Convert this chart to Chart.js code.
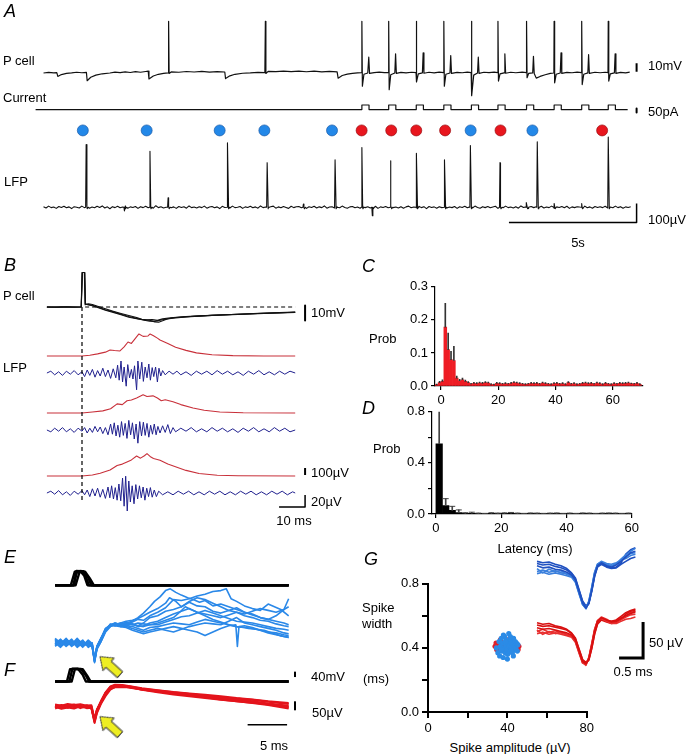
<!DOCTYPE html>
<html><head><meta charset="utf-8">
<script src="https://cdn.jsdelivr.net/npm/chart.js@4.4.0/dist/chart.umd.min.js"></script>
<style>
html,body{margin:0;padding:0;background:#fff;}
#fig{position:relative;width:687px;height:754px;overflow:hidden;background:#fff;font-family:'Liberation Sans',Arial,sans-serif;color:#000;}
#fig canvas{position:absolute;}
.t{position:absolute;font-size:13px;line-height:1;white-space:nowrap;transform:translateY(-50%);}
.c{transform:translate(-50%,-50%);}
.p{font-style:italic;font-size:18px;}
</style></head><body><div id="fig"></div>
<script>
// ---------------- DATA ----------------
// Panel A (time in s)
const pcellTrace = [[0,-60.5],[0.2,-59.8],[0.4,-60.3],[0.52,-60],[0.56,-64.5],[0.7,-62.3],[0.9,-61],[1.1,-60.4],[1.3,-59.6],[1.5,-60.2],[1.68,-59.8],[1.71,-69.5],[1.85,-65.5],[2.05,-63],[2.3,-61.4],[2.6,-60.5],[2.8,-59.4],[3.0,-60.1],[3.2,-59.2],[3.4,-59.9],[3.6,-58.9],[3.8,-59.6],[4.0,-58.7],[4.1,-58.2],[4.13,-67.5],[4.3,-64],[4.5,-62],[4.7,-61],[4.88,-60.4],[4.9,0],[4.92,-61],[5.0,-59.2],[5.3,-59.6],[5.6,-58.7],[5.9,-59.3],[6.2,-58.6],[6.5,-59.4],[6.8,-58.9],[7.1,-59.3],[7.13,-67],[7.3,-63.8],[7.5,-62],[7.8,-60.8],[8.1,-60.4],[8.4,-59.8],[8.67,-60.1],[8.69,0],[8.71,-61],[8.8,-58.6],[9.1,-58.9],[9.4,-58.3],[9.7,-58.9],[10.0,-58.3],[10.3,-59],[10.6,-58.4],[10.9,-59.1],[11.2,-58.6],[11.5,-59.2],[11.54,-66.5],[11.7,-63.4],[11.9,-61.8],[12.1,-60.9],[12.3,-60.4],
[12.46,-60.2],[12.47,0],[12.49,-76],[12.55,-62],[12.7,-60.5],[12.74,-42],[12.77,-61],[12.95,-60],[13.15,-59.4],[13.35,-60.1],
[13.51,-59.8],[13.52,0],[13.54,-80],[13.6,-62.5],[13.76,-60.5],[13.79,-38],[13.82,-61],[14.0,-59.8],[14.2,-60.4],[14.42,-59.6],
[14.59,-60],[14.6,0],[14.62,-71],[14.68,-61.5],[14.84,-60.4],[14.87,-37],[14.9,-60.8],[15.1,-59.6],[15.3,-60.3],[15.5,-59.4],
[15.67,-60],[15.68,0],[15.7,-76],[15.76,-62],[15.92,-60.5],[15.95,-40],[15.98,-61],[16.2,-59.7],[16.4,-60.2],[16.6,-59.5],
[16.75,-60],[16.76,0],[16.78,-87],[16.85,-63],[17.0,-60.6],[17.03,-42],[17.06,-61],[17.25,-59.6],[17.45,-60.1],[17.65,-59.4],
[17.79,-60],[17.8,0],[17.82,-70],[17.88,-61.5],[18.04,-60.3],[18.07,-38],[18.1,-60.8],[18.3,-59.6],[18.5,-60.2],[18.75,-59.5],
[18.91,-60],[18.92,0],[18.94,-66],[19.0,-61],[19.16,-60.4],[19.19,-41],[19.22,-61],[19.3,-66.5],[19.45,-64.5],[19.65,-62.5],[19.85,-61],
[19.99,-60.5],[20.0,0],[20.02,-72],[20.08,-62],[20.24,-60.5],[20.27,-37],[20.3,-61],[20.5,-59.7],[20.7,-60.2],[20.9,-59.5],
[21.07,-60],[21.08,0],[21.1,-74],[21.16,-62],[21.32,-60.4],[21.35,-39],[21.38,-61],[21.6,-59.6],[21.8,-60.2],[22.0,-59.6],
[22.11,-60],[22.12,0],[22.14,-70],[22.2,-61.5],[22.36,-60.4],[22.39,-38],[22.42,-61],[22.6,-59.8],[22.8,-60.3],[22.96,-59.5]];
const stimOnsets = [12.47,13.52,14.60,15.68,16.76,17.80,18.92,20.00,21.08,22.12];
const stimAmp = 60, stimWidth = 0.28, currentSpan = [-0.31, 22.88];
const lfpStep = 0.1;
const lfpNoise = [3,-4,6,-2,1,-6,4,-1,5,-3,2,-7,3,0,-4,6,-2,4,-5,1,
 -3,5,-1,7,-4,2,-8,3,-2,5,-3,1,6,-5,2,-1,4,-6,3,-2,
 5,-3,1,-5,8,-2,3,-4,0,6,-3,2,-6,4,-1,3,-5,7,-2,1,
 -4,3,-2,6,-5,1,4,-3,2,-7,5,-1,3,-4,6,-2,0,4,-6,2,
 -1,5,-3,2,-5,7,-2,1,-4,3,6,-5,2,-3,4,-1,-6,5,-2,3,
 4,-3,1,-6,3,-1,5,-4,2,-2,7,-5,1,3,-4,2,-3,6,-1,-5,
 2,4,-3,1,-5,6,-2,3,-4,0,5,-6,2,-1,4,-3,6,-2,1,-4,
 3,-5,2,6,-3,1,-4,5,-2,3,-7,4,-1,2,-5,3,-2,6,-4,1,
 -2,4,-6,3,-1,5,-3,2,-4,6,-1,-5,3,-2,4,-3,1,5,-6,2,
 -3,6,-2,1,-4,3,-5,7,-1,2,-6,4,-2,3,-3,5,-4,1,-2,6,
 -5,2,-1,4,-3,5,-6,2,-2,3,1,-4,6,-3,2,-5,4,-1,3,-2,
 5,-4,1,-3,6,-2,3,-5,2,-1,3];
const lfpEventT   = [1.67,3.17,4.17,4.88,7.21,8.76,10.18,11.42,12.47,12.88,13.60,14.61,15.71,16.72,17.88,18.92,19.34,20.0,21.08,22.12];
const lfpEventAmp = [330,-20,295,50,340,235,17,250,315,-45,245,285,250,325,235,25,345,20,20,370];
const dotBlueT = [1.54,4.04,6.9,8.65,11.3,16.73,19.15];
const dotRedT  = [12.46,13.62,14.6,15.73,17.9,21.88];

// Panel B (time in ms)
const bPcell1 = [[-13.5,-60],[-10,-60.2],[-6,-59.8],[-3,-60.1],[-0.3,-60],[0,-37],[1.1,-37],[1.3,-58],[2.5,-58.3],[4,-58.8],[6,-60],[9,-61.8],[12,-63.2],[15,-64.8],[18,-66.3],[21,-67.6],[24,-68.8],[26,-69.5],[28,-69.6],[30,-68.8],[32,-68.2],[35,-67.4],[40,-66.6],[45,-66.1],[50,-65.6],[60,-64.9],[70,-64.3],[82,-63.6]];
const bPcell2 = [[-13.5,-60.2],[-8,-59.9],[-4,-60.2],[-0.3,-60],[0.1,-37],[0.9,-37],[1.2,-58.5],[2.5,-57.8],[4,-58.3],[6,-59.5],[9,-61.2],[12,-62.8],[15,-64.3],[18,-65.7],[21,-67],[23,-68.2],[25,-68.6],[27,-68.4],[29,-68.9],[31,-67.9],[34,-67.2],[40,-66.4],[45,-65.9],[50,-65.5],[60,-64.8],[70,-64.2],[82,-63.5]];
const bPcell3 = [[-13.5,-59.9],[-9,-60.1],[-5,-59.8],[-0.3,-60],[0.2,-37],[1.0,-37],[1.3,-58],[2.5,-58.6],[4,-59.2],[6,-60.4],[9,-62.2],[12,-63.6],[15,-65.2],[18,-66.8],[21,-67.8],[24,-68.6],[26,-68.8],[28,-70],[29.5,-70.1],[31,-69.2],[33,-67.8],[36,-67],[40,-66.5],[50,-65.6],[60,-64.8],[70,-64.1],[82,-63.4]];
const bRed1 = [[-13.5,0],[0,0],[3,10],[6,30],[9,55],[10.8,86],[12.5,78],[14.6,72],[16.2,130],[17.7,200],[19,180],[20.3,240],[21.9,315],[23.5,280],[25.4,286],[26.2,315],[27.5,290],[29,255],[30,229],[33,180],[36,125],[40,80],[44,45],[50,18],[58,5],[70,0],[82,0]];
const bRed2 = [[-13.5,0],[0,0],[4,15],[8,30],[11,60],[13.5,130],[15.5,120],[17.3,175],[19,185],[21,215],[23.5,260],[25,235],[27.3,245],[29,215],[30.5,175],[32,190],[35,160],[38,120],[42.7,72],[47,40],[53,14],[62,4],[82,0]];
const bRed3 = [[-13.5,0],[0,0],[4,15],[7,40],[10.8,86],[13.5,150],[15.5,170],[17.3,200],[19,230],[21,285],[22.5,255],[24,290],[25,320],[26.5,270],[27.5,250],[30,225],[33,170],[36.5,125],[40,80],[45,35],[52,10],[60,3],[82,0]];
const bBlue1 = [[-13.5,0],[-12,3],[-10.5,-3],[-9,2],[-7.5,-4],[-6,3],[-4.5,-2],[-3,4],[-1.5,-3],[0,2],[1,-6],[2,5],[3,-4],[4,6],[5,-7],[6,4],[7,-5],[8,8],[9,-6],[10,5],[11,-9],[12,7],[13,-8],[13.7,13],[14.3,-12],[15,20],[15.6,-15],[16.2,10],[17,-22],[17.6,14],[18.3,-8],[19,6],[19.6,-10],[20.2,12],[21,-28],[21.5,20],[22.2,-10],[23,18],[23.6,-14],[24.3,10],[25,-8],[25.7,15],[26.3,-12],[27,9],[27.6,-6],[28.3,10],[29,-15],[29.6,8],[30.3,-5],[31,4],[32,-3],[33.5,3],[35,-2],[36.5,3],[38,-3],[40,2],[42,-4],[44,3],[46,-2],[48,3],[50,-3],[52,4],[54,-2],[56,3],[58,-3],[60,2],[62,-4],[64,3],[66,-2],[68,4],[70,-3],[72,2],[74,-3],[76,3],[78,-2],[80,3],[82,0]];
const bBlue2 = [[-13.5,0],[-12,-3],[-10.5,3],[-9,-2],[-7.5,4],[-6,-3],[-4.5,2],[-3,-4],[-1.5,3],[0,-2],[1,4],[2,-5],[3,3],[4,-4],[5,6],[6,-3],[7,5],[8,-6],[9,4],[10,-8],[11,10],[11.7,-7],[12.4,12],[13.1,-10],[13.8,8],[14.5,-12],[15.2,14],[15.9,-9],[16.6,11],[17.3,-14],[18,16],[18.7,-8],[19.4,12],[20.1,-15],[20.8,10],[21.5,-22],[22.2,14],[22.9,-10],[23.6,13],[24.3,-9],[25,11],[25.7,-12],[26.4,8],[27.1,-7],[27.8,10],[28.5,-8],[29.2,6],[30,-5],[31,7],[32,-4],[33,9],[34,-6],[35,4],[36,-3],[38,3],[40,-2],[42,4],[44,-3],[46,2],[48,-3],[50,4],[52,-2],[54,3],[56,-3],[58,2],[60,-4],[62,3],[64,-2],[66,4],[68,-3],[70,2],[72,-3],[74,4],[76,-2],[78,3],[80,-3],[82,0]];
const bBlue3 = [[-13.5,0],[-12,3],[-10.5,-2],[-9,4],[-7.5,-3],[-6,2],[-4.5,-4],[-3,3],[-1.5,-2],[0,4],[1,-3],[2,5],[3,-6],[4,7],[5,-5],[6,8],[7,-7],[8,6],[9,-9],[10,10],[10.7,-8],[11.4,12],[12.1,-10],[12.8,9],[13.5,-12],[14.2,15],[14.9,-13],[15.6,25],[16.2,-22],[16.8,28],[17.4,-30],[18,20],[18.6,-15],[19.3,12],[20,-18],[20.7,14],[21.4,-10],[22.1,12],[22.8,-8],[23.5,10],[24.2,-12],[24.9,8],[25.6,-6],[26.3,9],[27,-7],[27.8,5],[28.6,-6],[29.5,3],[31,-3],[33,2],[35,-3],[37,3],[39,-2],[41,3],[43,-3],[45,2],[47,-3],[49,3],[51,-2],[53,3],[55,-3],[57,2],[59,-3],[61,3],[63,-2],[65,3],[67,-3],[69,2],[71,-3],[73,3],[75,-2],[77,3],[79,-3],[81,2],[82,0]];

// Panel C
const cLatency = [-1.5,-0.5,0.5,1.5,2.5,3.5,4.5,5.5,6.5,7.5,8.5,9.5,10.5,11.5,12.5,13.5,14.5,15.5,16.5,17.5,18.5,19.5,20.5,21.5,22.5,23.5,24.5,25.5,26.5,27.5,28.5,29.5,30.5,31.5,32.5,33.5,34.5,35.5,36.5,37.5,38.5,39.5,40.5,41.5,42.5,43.5,44.5,45.5,46.5,47.5,48.5,49.5,50.5,51.5,52.5,53.5,54.5,55.5,56.5,57.5,58.5,59.5,60.5,61.5,62.5,63.5,64.5,65.5,66.5,67.5,68.5,69.5];
const cProb = [0.004,0.010,0.014,0.178,0.110,0.080,0.077,0.024,0.016,0.019,
 0.014,0.010,0.006,0.008,0.007,0.009,0.008,0.010,0.009,0.005,
 0.004,0.008,0.007,0.006,0.007,0.006,0.008,0.010,0.009,0.007,
 0.006,0.005,0.006,0.008,0.007,0.008,0.006,0.009,0.007,0.006,
 0.005,0.007,0.008,0.006,0.007,0.005,0.010,0.006,0.007,0.005,
 0.006,0.008,0.009,0.007,0.008,0.006,0.009,0.007,0.005,0.008,
 0.006,0.005,0.007,0.006,0.008,0.007,0.008,0.009,0.007,0.006,
 0.008,0.005];
const cErr = [0.002,0.004,0.005,0.072,0.050,0.025,0.043,0.006,0.004,0.005,
 0.004,0.003,0.002,0.003,0.003,0.003,0.003,0.003,0.003,0.002,
 0.002,0.003,0.003,0.002,0.003,0.002,0.003,0.003,0.003,0.003,
 0.002,0.002,0.002,0.003,0.003,0.003,0.002,0.003,0.003,0.002,
 0.002,0.003,0.003,0.002,0.003,0.002,0.003,0.002,0.003,0.002,
 0.002,0.003,0.003,0.003,0.003,0.002,0.003,0.003,0.002,0.003,
 0.002,0.002,0.003,0.002,0.003,0.003,0.003,0.003,0.002,0.002,
 0.003,0.002];
const cXTicks = [0,20,40,60];
const cYTicks = [0,0.1,0.2,0.3];

// Panel D
const dLatency = [1,3,5,7,9,11,13,15,17,19,21,23,25,27,29,31,33,35,37,39,41,43,45,47,49,51,53,55,57,59];
const dProb = [0.55,0.065,0.028,0.012,0.004,0.006,0.003,0.002,0.005,0.003,0.004,0.006,0.003,0.002,0.004,0.003,0.002,0.003,0.004,0.002,0.003,0.002,0.004,0.003,0.002,0.003,0.004,0.003,0.002,0.003];
const dErr = [0.27,0.055,0.032,0.02,0.006,0.008,0.004,0.003,0.005,0.004,0.005,0.006,0.004,0.003,0.004,0.004,0.003,0.004,0.004,0.003,0.004,0.003,0.004,0.004,0.003,0.004,0.004,0.004,0.003,0.004];
const dXTicks = [0,20,40,60];
const dYTicks = [0,0.2,0.4,0.6,0.8];
const dYLabels = [0,0.4,0.8];

// Panel E / F (time in ms)
const eBlack = [
 [[0,0],[2.0,0],[2.5,100],[3.3,105],[3.9,60],[4.3,0],[29.6,0]],
 [[0,0],[2.3,0],[2.8,102],[3.6,104],[4.2,55],[4.6,0],[29.6,0]],
 [[0,0],[2.6,0],[3.1,98],[3.8,100],[4.4,50],[4.9,0],[29.6,0]],
 [[0,0],[2.4,0],[2.7,106],[3.2,104],[3.7,70],[4.1,0],[29.6,0]]];
const eBlue = [
 [[0,10],[0.7,-15],[1.4,20],[2.1,-5],[2.8,15],[3.5,-10],[4.2,5],[4.7,-15],[5.0,-105],[5.3,-30],[5.8,15],[6.4,75],[7.0,95],[7.6,105],[8.3,95],[9.0,110],[9.8,120],[10.5,140],[11.2,165],[12.0,200],[12.6,230],[13.3,255],[14.0,290],[14.6,300],[15.3,280],[16.0,265],[16.8,250],[17.5,240],[18.3,225],[19.0,235],[20.0,205],[21.0,215],[22.0,200],[23.0,185],[24.0,170],[25.0,155],[26.0,140],[27.0,130],[28.0,120],[29.0,110],[29.6,100]],
 [[0,-20],[0.7,5],[1.4,-10],[2.1,15],[2.8,-15],[3.5,10],[4.2,-20],[4.7,-5],[5.0,-95],[5.3,-20],[5.8,25],[6.4,65],[7.0,100],[7.6,95],[8.3,105],[9.0,100],[9.8,115],[10.5,130],[11.2,125],[12.0,150],[13.0,170],[14.0,195],[15.0,240],[16.0,235],[17.0,245],[18.0,260],[19.0,270],[20.0,285],[21.0,290],[21.7,300],[22.3,245],[23.0,230],[24.0,205],[25.0,190],[26.0,180],[27.0,215],[27.8,200],[28.6,185],[29.6,150]],
 [[0,25],[0.7,0],[1.4,15],[2.1,-20],[2.8,5],[3.5,-25],[4.2,10],[4.7,-10],[5.0,-90],[5.3,-25],[5.8,20],[6.4,80],[7.0,90],[7.6,110],[8.3,100],[9.0,95],[9.8,105],[10.5,95],[11.2,110],[12.0,140],[13.0,150],[14.0,175],[15.0,185],[16.0,200],[17.0,225],[18.0,205],[19.0,200],[20.0,175],[21.0,165],[22.0,180],[23.0,195],[24.0,170],[25.0,160],[26.0,140],[27.0,130],[28.0,150],[29.0,185],[29.6,245]],
 [[0,-5],[0.7,20],[1.4,-15],[2.1,10],[2.8,-25],[3.5,0],[4.2,-10],[4.7,-20],[5.0,-110],[5.3,-35],[5.8,5],[6.4,60],[7.0,90],[7.6,100],[8.3,110],[9.0,100],[9.8,105],[10.5,90],[11.2,95],[12.0,110],[13.0,120],[14.0,140],[15.0,160],[16.0,175],[17.0,190],[18.0,170],[19.0,160],[20.0,150],[21.0,140],[22.0,155],[23.0,170],[24.0,150],[25.0,140],[26.0,125],[27.0,120],[28.0,105],[29.0,95],[29.6,90]],
 [[0,15],[0.7,-10],[1.4,5],[2.1,-15],[2.8,20],[3.5,-5],[4.2,-15],[4.7,0],[5.0,-100],[5.3,-25],[5.8,15],[6.4,70],[7.0,105],[7.6,95],[8.3,100],[9.0,115],[9.8,100],[10.5,110],[11.2,105],[12.0,100],[13.0,100],[14.0,115],[15.0,130],[16.0,145],[17.0,150],[18.0,165],[19.0,180],[20.0,165],[21.0,150],[22.0,135],[23.0,120],[24.0,115],[25.0,110],[26.0,100],[27.0,90],[28.0,80],[29.0,75],[29.6,70]],
 [[0,0],[0.7,-25],[1.4,10],[2.1,-10],[2.8,10],[3.5,-20],[4.2,0],[4.7,-25],[5.0,-95],[5.3,-20],[5.8,20],[6.4,75],[7.0,95],[7.6,100],[8.3,90],[9.0,95],[9.8,90],[10.5,80],[11.2,70],[12.0,85],[13.0,90],[14.0,100],[15.0,110],[16.0,105],[17.0,100],[18.0,115],[19.0,130],[20.0,120],[21.0,110],[22.0,100],[23.0,90],[24.0,85],[25.0,80],[26.0,70],[27.0,60],[28.0,55],[29.0,45],[29.6,40]],
 [[0,-15],[0.7,10],[1.4,-20],[2.1,5],[2.8,-10],[3.5,15],[4.2,-25],[4.7,-10],[5.0,-100],[5.3,-30],[5.8,10],[6.4,70],[7.0,100],[7.6,105],[8.3,95],[9.0,90],[9.8,80],[10.5,70],[11.2,60],[12.0,70],[13.0,80],[14.0,70],[15.0,60],[16.0,75],[17.0,90],[18.0,100],[19.0,110],[20.0,105],[21.0,100],[22.0,120],[23.0,140],[24.0,110],[25.0,100],[26.0,90],[27.0,80],[28.0,70],[29.0,55],[29.6,50]],
 [[0,5],[0.7,-5],[1.4,25],[2.1,-15],[2.8,0],[3.5,-15],[4.2,15],[4.7,-5],[5.0,-90],[5.3,-20],[5.8,25],[6.4,80],[7.0,100],[7.6,110],[8.3,100],[9.0,110],[9.8,100],[10.5,95],[11.2,90],[12.0,100],[13.0,110],[14.0,125],[15.0,140],[15.8,170],[16.5,200],[17.2,185],[18.0,170],[19.0,150],[20.0,130],[21.0,115],[22.0,100],[23.0,90],[24.0,85],[24.5,80],[25.5,75],[26.5,70],[27.5,55],[28.5,40],[29.6,30]],
 [[0,-10],[0.7,15],[1.4,-5],[2.1,20],[2.8,-20],[3.5,5],[4.2,-5],[4.7,-20],[5.0,-105],[5.3,-35],[5.8,5],[6.4,65],[7.0,95],[7.6,95],[8.3,90],[9.0,85],[9.8,70],[10.5,60],[11.2,50],[12.0,60],[13.0,70],[14.0,80],[15.0,90],[16.0,80],[17.0,70],[18.0,60],[19.0,40],[20.0,60],[21.0,80],[22.0,95],[22.9,100],[23.1,-20],[23.3,90],[24.0,95],[25.0,85],[26.0,70],[27.0,55],[28.0,45],[29.0,35],[29.6,30]],
 [[0,20],[0.7,-20],[1.4,0],[2.1,-10],[2.8,25],[3.5,-15],[4.2,5],[4.7,-15],[5.0,-95],[5.3,-25],[5.8,15],[6.4,70],[7.0,100],[7.6,100],[8.3,110],[9.0,120],[9.8,125],[10.5,135],[11.2,150],[12.0,170],[13.0,190],[14.0,220],[14.5,250],[15.3,230],[16.0,200],[17.0,230],[18.0,250],[19.0,240],[20.0,220],[21.0,200],[22.0,180],[23.0,170],[24.0,160],[25.0,175],[26.0,190],[27.0,180],[28.0,170],[29.0,185],[29.6,200]]];
const fBlack = [
 [[0,0],[1.5,0],[1.9,92],[2.9,95],[3.5,50],[3.9,0],[29.6,0]],
 [[0,0],[1.8,0],[2.2,95],[3.3,93],[3.9,45],[4.3,0],[29.6,0]],
 [[0,0],[2.1,0],[2.5,90],[3.5,92],[4.1,40],[4.5,0],[29.6,0]]];
const fTime = [0,0.8,1.6,2.4,3.2,4.0,4.6,5.0,5.3,5.8,6.4,7.0,7.6,8.5,9.5,11,13,15,17,19,21,23,25,27,29.6];
const fRed = [
 [5,-8,10,-3,6,-5,0,-85,-30,20,70,105,115,118,112,100,90,80,70,62,50,40,30,18,5],
 [-10,3,-6,8,-8,2,-10,-75,-20,30,80,110,120,115,105,95,85,72,65,55,45,35,25,12,-5],
 [12,5,15,10,14,6,8,-70,-15,25,65,100,108,110,108,98,86,78,70,60,52,45,38,28,15],
 [-2,10,0,4,-2,8,-5,-90,-35,15,60,95,110,114,110,96,84,75,62,52,40,30,20,10,-10],
 [0,-12,-4,-10,2,-8,-6,-80,-25,22,75,108,118,116,108,94,80,68,58,48,38,30,22,15,0],
 [8,2,4,12,0,4,2,-72,-18,28,78,112,122,120,114,102,92,82,74,66,58,48,40,30,20]];
const arrowE = [[6.96,-127]], arrowF = [[6.96,-105]];

// Panel G
const gBlue = [[34.5,0.40],[35.2,0.37],[35.8,0.44],[36.1,0.35],[36.5,0.41],[36.9,0.46],[37.2,0.38],[37.6,0.43],[37.9,0.34],[38.3,0.40],[38.6,0.47],[38.9,0.37],[39.2,0.42],[39.5,0.45],[39.8,0.39],[40.1,0.36],[40.4,0.43],[40.7,0.49],[41.0,0.41],[41.3,0.38],[41.6,0.45],[41.9,0.40],[42.2,0.43],[42.5,0.37],[42.8,0.42],[43.1,0.46],[43.4,0.39],[43.7,0.41],[44.0,0.44],[44.3,0.40],[44.6,0.43],[45.0,0.38],[45.3,0.42],[38.0,0.48],[40.0,0.33],[41.5,0.47],[37.0,0.39],[43.0,0.35],[39.0,0.44],[42.0,0.39]];
const gRed = [[33.8,0.41],[34.3,0.43],[34.6,0.39],[35.0,0.42],[36.0,0.40],[37.5,0.42],[38.5,0.41],[39.5,0.38],[40.5,0.42],[41.5,0.39],[42.5,0.41],[43.5,0.40],[44.5,0.41],[45.4,0.39],[45.8,0.41],[36.5,0.45],[40.2,0.45],[43.2,0.44]];
const gXTicks = [0,20,40,60,80], gXLabels = [0,40,80];
const gYTicks = [0,0.2,0.4,0.6,0.8], gYLabels = [0,0.4,0.8];
const wTime = [0,0.12,0.25,0.38,0.5,0.62,0.72,0.8,0.88,0.95,1.02,1.08,1.14,1.2,1.26,1.34,1.45,1.55,1.65,1.75,1.85,1.95,2.05];
const wBlue = [
 [6,3,4,1,0,-3,-7,-14,-31,-46,-53,-46,-28,-7,6,10,6,4,7,12,18,24,26],
 [-2,0,-3,-1,-4,-5,-8,-16,-33,-47,-52,-44,-25,-4,8,11,8,6,9,15,21,26,30],
 [9,7,8,5,3,0,-5,-12,-29,-44,-51,-47,-30,-9,4,8,4,2,3,8,12,16,18],
 [2,-4,1,-2,-1,-6,-9,-15,-32,-48,-54,-45,-26,-5,7,9,7,5,8,14,16,20,22],
 [12,10,11,8,6,2,-4,-11,-28,-43,-50,-46,-29,-8,5,9,5,3,4,10,22,28,31],
 [-5,-3,-6,-4,-6,-8,-10,-17,-34,-48,-53,-43,-24,-3,8,12,9,8,10,13,19,23,24]];
const wRed = [
 [3,1,2,0,-2,-4,-7,-14,-30,-44,-47,-40,-22,-2,12,17,14,11,12,16,20,23,25],
 [-5,-3,-6,-4,-6,-8,-10,-17,-33,-46,-48,-38,-19,1,13,16,12,9,9,12,15,16,18],
 [7,5,6,4,2,0,-5,-12,-28,-42,-46,-41,-25,-5,9,15,13,12,14,19,24,27,29],
 [0,-6,-2,-5,-3,-7,-9,-15,-31,-45,-49,-39,-20,0,13,18,15,10,11,14,18,21,22],
 [10,8,9,6,4,1,-4,-11,-27,-41,-45,-42,-26,-6,8,14,11,9,10,15,22,26,27],
 [-2,1,-3,-1,-4,-6,-8,-16,-32,-45,-47,-39,-21,-1,11,17,14,12,13,17,19,24,26]];

// ---------------- HELPERS ----------------
Chart.defaults.font.family = "'Liberation Sans', Arial, sans-serif";
Chart.defaults.font.size = 13;
Chart.defaults.color = '#000';
Chart.defaults.plugins.legend.display = false;
Chart.defaults.plugins.tooltip.enabled = false;
const fig = document.getElementById('fig');
function mk(box, cfg){
  const c = document.createElement('canvas');
  c.width = box.w; c.height = box.h;
  c.style.left = box.x+'px'; c.style.top = box.y+'px';
  c.style.width = box.w+'px'; c.style.height = box.h+'px';
  fig.appendChild(c);
  cfg.options = Object.assign({responsive:false, maintainAspectRatio:false, animation:false, devicePixelRatio:1, events:[]}, cfg.options||{});
  return new Chart(c.getContext('2d'), cfg);
}
const vrange = (h, base, val, ppu) => ({min: val - (h-base)/ppu, max: val + base/ppu});
const hrange = (w, base, val, ppu) => ({min: val - base/ppu, max: val + (w-base)/ppu});
const xy = a => a.map(p => ({x:p[0], y:p[1]}));
function ln(data, axis, color, w, extra){
  return Object.assign({type:'line', data:xy(data), yAxisID:axis, borderColor:color, borderWidth:w, pointRadius:0, fill:false, tension:0, borderJoinStyle:'round'}, extra||{});
}
function traceChart(box, xr, axes, datasets){
  const scales = {x:{type:'linear', display:false, min:xr.min, max:xr.max}, y:{type:'linear', display:false}};
  for (const id in axes){ const a = axes[id]; scales[id] = Object.assign({type:'linear', display:false}, vrange(box.h, a.base, a.val||0, a.ppu)); }
  return mk(box, {type:'line', data:{datasets}, options:{layout:{padding:0}, scales}});
}
function axisCfg(min, max, ticks, fmt, fitKey, fitVal, bw, tl){
  return {type:'linear', min, max, offset:false,
    afterBuildTicks: s => { s.ticks = ticks.map(v => ({value:v})); },
    afterFit: s => { s[fitKey] = fitVal; },
    grid:{display:true, offset:false, drawOnChartArea:false, drawTicks:true, tickLength:tl, color:'#000', tickColor:'#000', lineWidth:bw, tickWidth:bw},
    border:{display:true, color:'#000', width:bw},
    ticks:{padding:3, color:'#000', font:{size:13}, autoSkip:false, maxRotation:0, callback:fmt}};
}
function arrowImg(){
  const c = document.createElement('canvas'); c.width = 30; c.height = 20;
  const g = c.getContext('2d');
  g.beginPath(); g.moveTo(1.5,10); g.lineTo(13,1.5); g.lineTo(13,6); g.lineTo(28.5,6); g.lineTo(28.5,14); g.lineTo(13,14); g.lineTo(13,18.5); g.closePath();
  g.fillStyle = '#eeee22'; g.fill(); g.strokeStyle = '#333'; g.lineWidth = 1; g.stroke();
  return c;
}

// ---------------- PANEL A ----------------
const currentTrace = [[currentSpan[0],0]];
stimOnsets.forEach(o => { currentTrace.push([o,0],[o,stimAmp],[o+stimWidth,stimAmp],[o+stimWidth,0]); });
currentTrace.push([currentSpan[1],0]);
const lfpTrace = lfpNoise.map((v,i) => [i*lfpStep, v]);
lfpEventT.forEach((t,i) => { lfpTrace.push([t-0.02,0],[t,lfpEventAmp[i]],[t+0.04,-8],[t+0.08,0]); });
lfpTrace.sort((a,b) => a[0]-b[0]);
const K = '#111';
traceChart({x:0,y:0,w:687,h:240}, hrange(687,38,0,26),
  {yP:{base:70,val:-60,ppu:0.9}, yI:{base:109,ppu:0.08}, yL:{base:212,ppu:0.2}, yDot:{base:131,val:1,ppu:1}},
  [ln(pcellTrace,'yP',K,1.2), ln(currentTrace,'yI',K,1.2), ln(lfpTrace,'yL',K,1.1),
   ln(dotBlueT.map(t=>[t,1]),'yDot','#2388e8',0,{showLine:false,pointRadius:5.5,pointBackgroundColor:'#2388e8',pointBorderColor:'#1a5aa8',pointBorderWidth:0.7}),
   ln(dotRedT.map(t=>[t,1]),'yDot','#e8161e',0,{showLine:false,pointRadius:5.5,pointBackgroundColor:'#e8161e',pointBorderColor:'#9a0c10',pointBorderWidth:0.7}),
   ln([[23.23,-59],[23.23,-49]],'yP','#000',2),
   ln([[23.23,12.5],[23.23,-37.5]],'yI','#000',2),
   ln([[18.23,-80],[23.23,-80],[23.23,20]],'yL','#000',1.5)]);

// ---------------- PANEL B ----------------
const BR = '#c8303a', BB = '#20208e';
traceChart({x:0,y:255,w:330,h:270}, hrange(330,82,0,2.6),
  {yBP:{base:52,val:-60,ppu:1.5}, yR1:{base:101,ppu:0.07}, yR2:{base:158,ppu:0.07}, yR3:{base:221,ppu:0.07},
   yB1:{base:118,ppu:0.6}, yB2:{base:175,ppu:0.6}, yB3:{base:238,ppu:0.6}},
  [ln(bPcell1,'yBP',K,1.1), ln(bPcell2,'yBP',K,1.1), ln(bPcell3,'yBP',K,1.1),
   ln([[1.2,-60],[82,-60]],'yBP','#000',1.2,{borderDash:[4,3]}),
   ln([[0,-60],[0,-190]],'yBP','#000',1.2,{borderDash:[4,3]}),
   ln(bRed1,'yR1',BR,1.1), ln(bRed2,'yR2',BR,1.1), ln(bRed3,'yR3',BR,1.1),
   ln(bBlue1,'yB1',BB,1), ln(bBlue2,'yB2',BB,1), ln(bBlue3,'yB3',BB,1),
   ln([[85.8,-59],[85.8,-69]],'yBP','#000',2),
   ln([[85.8,14],[85.8,114]],'yR3','#000',2),
   ln([[75.8,-23.3],[85.8,-23.3],[85.8,-3.3]],'yB3','#000',1.5)]);

// ---------------- PANEL C ----------------
mk({x:385,y:276,w:268,h:134}, {type:'bar',
  data:{datasets:[
    {data:cLatency.map((x,i)=>({x, y:[cProb[i], cProb[i]+cErr[i]]})), backgroundColor:'#333', barThickness:1, grouped:false, order:1},
    {data:cLatency.map((x,i)=>({x, y:cProb[i]})), backgroundColor:'#ee1c24', barPercentage:1, categoryPercentage:1, grouped:false, order:2}]},
  options:{layout:{padding:{top:10,right:10,left:0,bottom:0}},
    scales:{x:axisCfg(-2.1,70.6,cXTicks,v=>v,'height',24,1.2,4),
            y:axisCfg(0,0.3,cYTicks,v=>v.toFixed(1),'width',50,1.2,4)}}});

// ---------------- PANEL D ----------------
mk({x:382,y:401,w:260,h:137}, {type:'bar',
  data:{datasets:[
    {type:'line', data:dLatency.map((x,i)=>({x, y:dProb[i]+dErr[i]})), showLine:false, pointStyle:'line', pointRadius:3, borderColor:'#444', pointBorderWidth:1, borderWidth:1, order:0},
    {data:dLatency.map((x,i)=>({x, y:[dProb[i], dProb[i]+dErr[i]]})), backgroundColor:'#444', barThickness:1, grouped:false, order:1},
    {data:dLatency.map((x,i)=>({x, y:dProb[i]})), backgroundColor:'#000', barPercentage:1, categoryPercentage:1, grouped:false, order:2}]},
  options:{layout:{padding:{top:10,right:10,left:0,bottom:0}},
    scales:{x:axisCfg(-1.2,60,dXTicks,v=>v,'height',24,1.2,4),
            y:axisCfg(0,0.8,dYTicks,v=>dYLabels.includes(v)?v.toFixed(1):'','width',50,1.2,4)}}});

// ---------------- PANEL E / F ----------------
const EB = '#2a88e8', FR = '#e4141c';
const arrow = arrowImg();
const efSets = [];
eBlue.forEach(tr => efSets.push(ln(tr,'yEb',EB,1.6)));
fRed.forEach(v => efSets.push(ln(fTime.map((t,i)=>[t,v[i]]),'yFr',FR,2)));
eBlack.forEach(tr => efSets.push(ln(tr,'yEk','#000',2.4)));
fBlack.forEach(tr => efSets.push(ln(tr,'yFk','#000',2.4)));
efSets.push(ln([[30.4,33],[30.4,73]],'yFk','#000',2));
efSets.push(ln([[30.4,-20],[30.4,30]],'yFr','#000',2));
efSets.push(ln([[24.4,-100],[29.4,-100]],'yFr','#000',1.5));
efSets.unshift(ln(arrowE,'yEb','#000',0,{showLine:false,pointStyle:arrow,pointRotation:42,pointRadius:10}));
efSets.unshift(ln(arrowF,'yFr','#000',0,{showLine:false,pointStyle:arrow,pointRotation:42,pointRadius:10}));
traceChart({x:0,y:550,w:330,h:200}, hrange(330,48,0,8.4),
  {yEk:{base:28,ppu:0.15}, yEb:{base:92,ppu:0.2}, yFk:{base:135,ppu:0.15}, yFr:{base:163,ppu:0.2}}, efSets);

// ---------------- PANEL G ----------------
mk({x:378,y:573,w:219,h:163}, {type:'scatter',
  data:{datasets:[
    {data:xy(gBlue), pointRadius:2.6, pointBackgroundColor:'#2b8be6', pointBorderColor:'#2b8be6', pointBorderWidth:0},
    {data:xy(gRed), pointRadius:2.6, pointBackgroundColor:'#e0202a', pointBorderColor:'#e0202a', pointBorderWidth:0}]},
  options:{layout:{padding:{top:10,right:10,left:0,bottom:0}},
    scales:{x:axisCfg(0,80,gXTicks,v=>gXLabels.includes(v)?String(v):'','height',24,2,6),
            y:axisCfg(0,0.8,gYTicks,v=>gYLabels.includes(v)?v.toFixed(1):'','width',50,2,6)}}});
const wSets = [];
wBlue.forEach((v,k) => wSets.push(ln(wTime.map((t,i)=>[t,v[i]]),'yWb', k%2?'#3a7fdc':'#1f50c0',1.6)));
wRed.forEach((v,k) => wSets.push(ln(wTime.map((t,i)=>[t,v[i]]),'yWr', k%2?'#e83030':'#d81010',1.6)));
wSets.push(ln([[1.71,-39],[2.21,-39],[2.21,11]],'yWr','#000',3,{borderJoinStyle:'miter'}));
traceChart({x:520,y:540,w:167,h:135}, hrange(167,17,0,48), {yWb:{base:30,ppu:0.72}, yWr:{base:90,ppu:0.72}}, wSets);

// ---------------- TEXT ----------------
const labels = [
 ['A',4,11,'p'],['P cell',3,60,''],['Current',3,97,''],['LFP',4,181,''],['10mV',648,65,''],['50pA',648,111,''],['100µV',648,219,''],['5s',578,242,'c'],
 ['B',4,265,'p'],['P cell',3,295,''],['LFP',3,367,''],['10mV',311,312,''],['100µV',311,472,''],['20µV',311,501,''],['10 ms',294,520,'c'],
 ['C',362,266,'p'],['Prob',369,338,''],['D',362,408,'p'],['Prob',373,448,''],['Latency (ms)',535,548,'c'],
 ['E',4,557,'p'],['F',4,670,'p'],['40mV',311,676,''],['50µV',312,712,''],['5 ms',274,745,'c'],
 ['G',364,559,'p'],['Spike',362,607,''],['width',362,623,''],['(ms)',363,678,''],['Spike amplitude (µV)',510,747,'c'],['50 µV',649,642,''],['0.5 ms',633,671,'c']];
labels.forEach(([s,x,y,cls]) => {
  const d = document.createElement('div');
  d.className = 't ' + cls; d.textContent = s;
  d.style.left = x+'px'; d.style.top = y+'px';
  fig.appendChild(d);
});
</script></body></html>
